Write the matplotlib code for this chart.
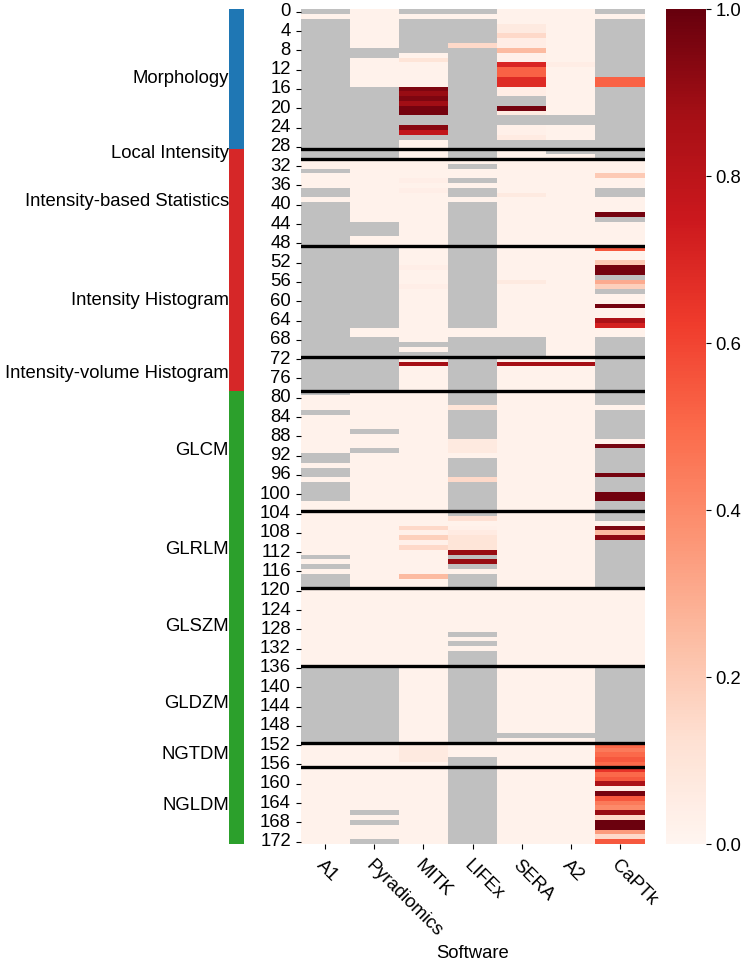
import numpy as np
import pandas as pd
import matplotlib
matplotlib.use("Agg")
import matplotlib.pyplot as plt
import seaborn as sns
from matplotlib.colors import ListedColormap

N = np.nan
N_ROWS = 173

software = ["A1", "Pyradiomics", "MITK", "LIFEx", "SERA", "A2", "CaPTk"]

# feature families: first and last row of each block
family_names = ["Morphology", "Local Intensity", "Intensity-based Statistics",
                "Intensity Histogram", "Intensity-volume Histogram", "GLCM",
                "GLRLM", "GLSZM", "GLDZM", "NGTDM", "NGLDM"]
family_start = [0, 29, 31, 49, 72, 79, 104, 120, 136, 152, 157]
family_end = [28, 30, 48, 71, 78, 103, 119, 135, 151, 156, 172]
family_class = [0, 1, 1, 1, 1, 2, 2, 2, 2, 2, 2]
class_colors = ["#1f77b4", "#d62728", "#2ca02c"]

# values as (value, number of rows); N = not available
a1_runs = [(N, 1), (0.02, 1), (N, 29), (0.02, 2), (N, 1), (0.02, 3), (N, 2),
           (0.02, 1), (N, 40), (0.02, 3), (N, 1), (0.02, 8), (N, 2), (0.02, 1),
           (N, 2), (0.02, 1), (N, 4), (0.02, 11), (N, 1), (0.02, 1), (N, 1),
           (0.02, 1), (N, 3), (0.02, 16), (N, 16), (0.02, 21)]
pyrad_runs = [(0.02, 8), (N, 2), (0.02, 6), (N, 15), (0.02, 13), (N, 3),
              (0.02, 2), (N, 17), (0.02, 2), (N, 11), (0.02, 8), (N, 1),
              (0.02, 3), (N, 1), (0.02, 44), (N, 16), (0.02, 14), (N, 1),
              (0.02, 1), (N, 1), (0.02, 3), (N, 1)]
mitk_runs = [(N, 1), (0.02, 1), (N, 7), (0.02, 1), (0.10, 1), (0.02, 5),
             (0.95, 1), (0.90, 1), (0.95, 1), (0.88, 1), (0.97, 2), (N, 2),
             (0.93, 1), (0.78, 1), (N, 1), (0.02, 8), (0.04, 1), (0.02, 1),
             (0.04, 1), (0.02, 15), (0.04, 1), (0.02, 3), (0.04, 1), (0.02, 11),
             (N, 1), (0.02, 1), (N, 1), (0.02, 1), (0.87, 1), (0.02, 33),
             (0.15, 1), (0.03, 1), (0.18, 1), (0.03, 1), (0.15, 1), (0.02, 5),
             (0.25, 1), (0.02, 34), (0.07, 4), (0.02, 17)]
lifex_runs = [(N, 1), (0.02, 1), (N, 5), (0.15, 1), (N, 23), (0.02, 1), (N, 1),
              (0.02, 2), (N, 1), (0.02, 1), (N, 2), (0.02, 1), (N, 26),
              (0.02, 2), (N, 14), (0.10, 1), (N, 6), (0.07, 3), (0.02, 1),
              (N, 4), (0.15, 1), (N, 7), (0.12, 1), (0.02, 1), (0.03, 1),
              (0.06, 1), (0.10, 3), (0.90, 1), (N, 1), (0.90, 1), (N, 1),
              (0.02, 1), (N, 3), (0.02, 9), (N, 1), (0.02, 1), (N, 1),
              (0.02, 1), (N, 19), (0.02, 3), (N, 18)]
sera_runs = [(0.02, 3), (0.07, 2), (0.15, 1), (0.05, 2), (0.25, 1), (0.03, 2),
             (0.70, 1), (0.52, 2), (0.68, 2), (0.05, 2), (N, 2), (0.97, 1),
             (0.06, 1), (N, 2), (0.03, 2), (0.06, 1), (N, 2), (0.02, 9),
             (0.07, 1), (0.02, 17), (0.07, 1), (0.02, 11), (N, 4), (0.02, 1),
             (0.87, 1), (0.02, 76), (N, 1), (0.02, 22)]
a2_runs = [(0.02, 11), (0.05, 1), (0.02, 10), (N, 2), (0.02, 3), (N, 3),
           (0.02, 43), (0.87, 1), (0.02, 76), (N, 1), (0.02, 22)]
captk_runs = [(N, 1), (0.02, 1), (N, 12), (0.52, 2), (N, 15), (0.02, 3),
              (0.20, 1), (0.02, 2), (N, 2), (0.02, 3), (0.97, 1), (N, 1),
              (0.02, 5), (0.55, 1), (0.02, 2), (0.20, 1), (0.97, 2), (N, 1),
              (0.30, 1), (0.18, 1), (N, 1), (0.02, 2), (0.97, 1), (0.02, 2),
              (0.85, 1), (0.72, 1), (0.02, 2), (N, 14), (0.02, 1), (N, 6),
              (0.02, 1), (0.97, 1), (N, 5), (0.97, 1), (N, 3), (0.98, 2),
              (N, 4), (0.02, 1), (0.95, 1), (0.25, 1), (0.92, 1), (N, 10),
              (0.02, 16), (N, 16),
              (0.50, 1), (0.45, 1), (0.50, 1), (0.55, 1), (0.50, 1), (0.65, 1),
              (0.50, 1), (0.55, 1), (0.85, 1), (0.05, 1), (0.97, 1), (0.55, 1),
              (0.45, 1), (0.40, 1), (0.90, 1), (0.15, 1), (0.99, 2), (0.35, 1),
              (0.15, 1), (0.55, 1)]


def expand(runs):
    vals = [v for v, n in runs for _ in range(n)]
    assert len(vals) == N_ROWS, len(vals)
    return vals


all_runs = [a1_runs, pyrad_runs, mitk_runs, lifex_runs, sera_runs, a2_runs, captk_runs]
df = pd.DataFrame({name: expand(r) for name, r in zip(software, all_runs)})

plt.rcParams["font.family"] = ["Liberation Sans", "DejaVu Sans"]
plt.rcParams["font.size"] = 13.3

W, H = 749, 966
fig = plt.figure(figsize=(W / 100, H / 100), dpi=100)
top, bot = 9.3, 844.1
fb, fh = (H - bot) / H, (bot - top) / H
ax = fig.add_axes([300.5 / W, fb, 344.1 / W, fh])
cax = fig.add_axes([666 / W, fb, 40 / W, fh])
side = fig.add_axes([229 / W, fb, 15 / W, fh])

ax.set_facecolor("silver")
sns.heatmap(df, ax=ax, cmap="Reds", vmin=0, vmax=1, cbar_ax=cax, yticklabels=4)
ax.set_yticklabels(ax.get_yticklabels(), rotation=0)
ax.set_xticklabels(software, rotation=-45, ha="left", va="top", rotation_mode="anchor")
ax.tick_params(axis="x", pad=6)
ax.set_xlabel("Software", labelpad=3)
for s in family_start[1:]:
    ax.axhline(s, color="black", lw=2.4)

# family colour strip with labels
cls = np.zeros((N_ROWS, 1))
for c, s, e in zip(family_class, family_start, family_end):
    cls[s:e + 1] = c
side.pcolormesh(cls, cmap=ListedColormap(class_colors), vmin=-0.5, vmax=2.5)
side.set_ylim(N_ROWS, 0)
side.set_xticks([])
side.set_yticks([(s + e) / 2 for s, e in zip(family_start, family_end)])
side.set_yticklabels(family_names)
side.tick_params(axis="y", length=0, pad=0)
for sp in side.spines.values():
    sp.set_visible(False)

fig.savefig("out.png", dpi=100)
